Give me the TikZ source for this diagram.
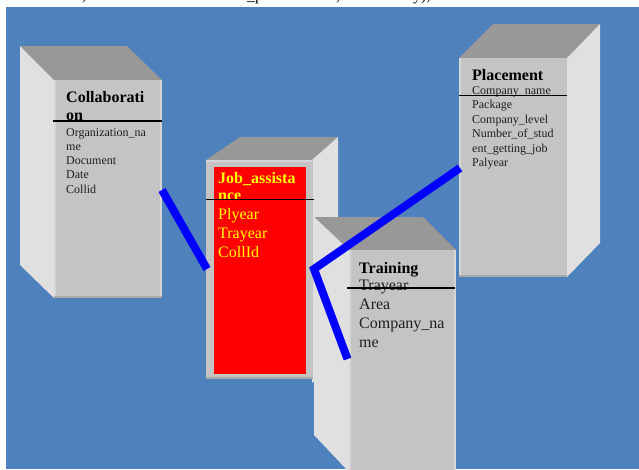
\documentclass[tikz,border=0pt]{standalone}
\usepackage{fontspec}
\setmainfont{Liberation Serif}
\definecolor{bgblue}{RGB}{79,129,189}
\definecolor{topgray}{RGB}{152,152,152}
\definecolor{sidegray}{RGB}{224,224,224}
\definecolor{frontgray}{RGB}{196,196,196}
\definecolor{edgedark}{RGB}{170,170,170}
\definecolor{edgelight}{RGB}{214,214,214}
\definecolor{linkblue}{RGB}{0,0,255}
\definecolor{txtyellow}{RGB}{255,255,0}
\definecolor{txtgray}{RGB}{30,30,30}
\begin{document}
\begin{tikzpicture}[x=1pt,y=-1pt,
  topface/.style={fill=topgray},
  sideface/.style={fill=sidegray},
  frontface/.style={fill=frontgray, rectangle, inner sep=0pt, outer sep=0pt, anchor=north west},
  redface/.style={fill=red, rectangle, inner sep=0pt, outer sep=0pt, anchor=north west},
  darkedge/.style={draw=edgedark, line width=2pt},
  lightedge/.style={draw=edgelight, line width=1.5pt},
  ttl/.style={font=\fontsize{16}{19}\selectfont\bfseries, inner sep=0pt, anchor=base west},
  attrS/.style={font=\fontsize{12}{14}\selectfont, inner sep=0pt, anchor=base west, text=txtgray},
  attrL/.style={font=\fontsize{16}{19}\selectfont, inner sep=0pt, anchor=base west, text=txtgray},
  frag/.style={font=\fontsize{16}{19}\selectfont, inner sep=0pt, anchor=base west},
  sepline/.style={draw=black, line width=1.5pt},
  link/.style={draw=linkblue, line width=8pt, line join=miter},
]
\useasboundingbox (0,0) rectangle (639,469);
\fill[white] (0,0) rectangle (639,469);
\fill[bgblue] (6,7) rectangle (639,469);

% cut-off text line at the very top
\begin{scope}
\clip (0,0) rectangle (639,7);
\node[frag] (f1) at (82,0) {,};
\node[frag] (f2) at (247,0) {\_p};
\node[frag] (f3) at (336,0) {,};
\node[frag] (f4) at (413,0) {y),};
\end{scope}

% ---------- Collaboration ----------
\fill[topface] (20,46) -- (127,46) -- (162,80) -- (54,80) -- cycle;
\fill[sideface] (20,46) -- (54,80) -- (54,298) -- (20,265) -- cycle;
\node[frontface, minimum width=108pt, minimum height=218pt] (collab) at (54,80) {};
\draw[lightedge] (55,80) -- (55,297);
\draw[lightedge] (161.2,80) -- (161.2,297);
\draw[darkedge] (54,297) -- (162,297);
\node[ttl] (collabT1) at (66,102) {Collaborati};
\node[ttl] (collabT2) at (66,120) {on};
\draw[sepline] (53,121) -- (162,121);
\foreach \t [count=\i from 0] in {Organization\_na,me,Document,Date,Collid}
  \node[attrS] (collabA\i) at (66,136.3+14.2*\i) {\t};

% ---------- Job_assistance ----------
\fill[topface] (206,160) -- (240,137) -- (338,137) -- (312,160) -- cycle;
\fill[sideface] (312,160) -- (338,137) -- (338,360) -- (312,383) -- cycle;
\node[frontface, minimum width=107pt, minimum height=219pt] (job) at (206,160) {};
\draw[lightedge] (206,161) -- (312,161);
\draw[darkedge] (206,378) -- (313,378);
\node[redface, minimum width=92pt, minimum height=207pt] (jobred) at (214,167) {};
\node[ttl, text=txtyellow] (jobT1) at (218,183) {Job\_assista};
\node[ttl, text=txtyellow] (jobT2) at (218,200.5) {nce};
\draw[sepline] (206,199.3) -- (314,199.3);
\foreach \t [count=\i from 0] in {Plyear,Trayear,CollId}
  \node[attrL, text=txtyellow] (jobA\i) at (218,219+19*\i) {\t};

% ---------- Placement ----------
\fill[topface] (459,58) -- (493,24) -- (600,24) -- (567,58) -- cycle;
\fill[sideface] (567,58) -- (600,24) -- (600,243) -- (567,277) -- cycle;
\node[frontface, minimum width=108pt, minimum height=219pt] (place) at (459,58) {};
\draw[lightedge] (460,58) -- (460,276);
\draw[darkedge] (459,276) -- (567,276);
\node[ttl] (placeT) at (472,80) {Placement};
\foreach \t [count=\i from 0] in {Company\_name,Package,Company\_level,Number\_of\_stud,ent\_getting\_job,Palyear}
  \node[attrS] (placeA\i) at (472,94.5+14.4*\i) {\t};
\draw[sepline] (459,95.7) -- (567,95.7);

% ---------- Training ----------
\fill[topface] (314,217) -- (423,217) -- (456,250) -- (349,250) -- cycle;
\fill[sideface] (314,217) -- (349,250) -- (349,472) -- (314,435) -- cycle;
\node[frontface, minimum width=106pt, minimum height=222pt] (train) at (349,250) {};
\draw[lightedge] (349.8,250) -- (349.8,472);
\draw[lightedge] (455.2,250) -- (455.2,472);
\node[ttl] (trainT) at (359,273) {Training};
\foreach \t [count=\i from 0] in {Trayear,Area,Company\_na,me}
  \node[attrL] (trainA\i) at (359,290+19*\i) {\t};
\draw[sepline] (347,288) -- (455,288);

% ---------- connectors ----------
\coordinate (cEnd) at (162,190);
\coordinate (jIn) at (207,269);
\coordinate (jOut) at (314,269);
\coordinate (pEnd) at (460,168);
\coordinate (tEnd) at (347.5,359);
\draw[link] (cEnd) -- (jIn);
\draw[link] (pEnd) -- (jOut) -- (tEnd);
\end{tikzpicture}
\end{document}
